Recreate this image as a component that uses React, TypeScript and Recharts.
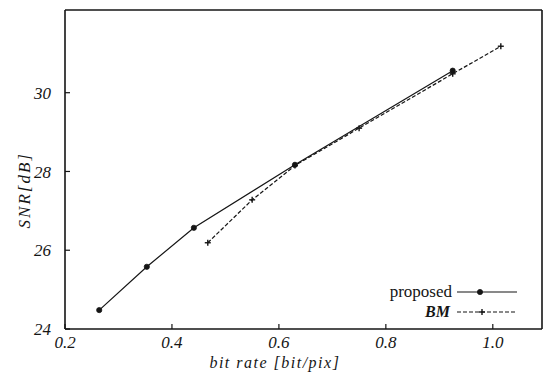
import { LineChart, Line, XAxis, YAxis } from "recharts"

// bit rate [bit/pix] vs SNR [dB]
const proposedRate = [0.264, 0.353, 0.441, 0.63, 0.925]
const proposedSnr = [24.48, 25.58, 26.57, 28.17, 30.56]
const bmRate = [0.467, 0.55, 0.63, 0.75, 0.925, 1.015]
const bmSnr = [26.19, 27.28, 28.15, 29.1, 30.48, 31.18]

const xTicks = [0.2, 0.4, 0.6, 0.8, 1.0]
const xTicksTop = [0.4, 0.6, 0.8, 1.0]
const yTicks = [24, 26, 28, 30]
const yTicksRight = [26, 28, 30]

const proposed = proposedRate.map((rate, i) => ({ rate, snr: proposedSnr[i] }))
const bm = bmRate.map((rate, i) => ({ rate, snr: bmSnr[i] }))

const ink = "#151515"
const serif = "'Liberation Serif', 'DejaVu Serif', serif"
const tickStyle = { fill: ink, fontFamily: serif, fontStyle: "italic", fontSize: 17 }

function CircleDot({ cx, cy }: { cx?: number; cy?: number }) {
  if (cx == null || cy == null) return null
  return <circle cx={cx} cy={cy} r={2.6} fill={ink} stroke={ink} strokeWidth={0.8} />
}

function CrossDot({ cx, cy }: { cx?: number; cy?: number }) {
  if (cx == null || cy == null) return null
  return (
    <g stroke={ink} strokeWidth={1.4}>
      <line x1={cx - 3} y1={cy} x2={cx + 3} y2={cy} />
      <line x1={cx} y1={cy - 3} x2={cx} y2={cy + 3} />
    </g>
  )
}

// legend drawn on top of the plot, lower right corner
function LegendBox() {
  return (
    <svg width={160} height={44} style={{ position: "absolute", left: 372, top: 280 }}>
      <text x={80} y={17} textAnchor="end" fontFamily={serif} fontSize={17} fill={ink}>
        proposed
      </text>
      <line x1={85} y1={12} x2={145} y2={12} stroke={ink} strokeWidth={1.1} />
      <CircleDot cx={108} cy={12} />
      <text x={78} y={37} textAnchor="end" fontFamily={serif} fontStyle="italic" fontWeight="bold" fontSize={16} fill={ink}>
        BM
      </text>
      <line x1={85} y1={32} x2={145} y2={32} stroke={ink} strokeWidth={1.1} strokeDasharray="4 2" />
      <CrossDot cx={110} cy={32} />
    </svg>
  )
}

export default function App() {
  return (
    <div style={{ position: "absolute", left: 0, top: 0, width: 547, height: 373, background: "#fff" }}>
      <LineChart width={547} height={373} margin={{ top: 0, right: 0, bottom: 0, left: 0 }}>
        <XAxis
          dataKey="rate"
          type="number"
          domain={[0.2, 1.092]}
          ticks={xTicks}
          tickFormatter={(v: number) => v.toFixed(1)}
          allowDataOverflow
          height={44}
          tickSize={-5}
          tickMargin={12}
          tick={tickStyle}
          axisLine={{ stroke: ink, strokeWidth: 1.6 }}
          tickLine={{ stroke: ink, strokeWidth: 1.2 }}
          label={(props: any) => {
            const vb = props.viewBox
            return (
              <text
                x={vb.x + vb.width * 0.44}
                y={vb.y + 39}
                textAnchor="middle"
                fontFamily={serif}
                fontStyle="italic"
                fontSize={16}
                letterSpacing={1.5}
                fill={ink}
              >
                bit rate [bit/pix]
              </text>
            )
          }}
        />
        <XAxis
          xAxisId="top"
          orientation="top"
          type="number"
          domain={[0.2, 1.092]}
          ticks={xTicksTop}
          allowDataOverflow
          height={10}
          tickSize={-5}
          tick={false}
          axisLine={{ stroke: ink, strokeWidth: 1.6 }}
          tickLine={{ stroke: ink, strokeWidth: 1.2 }}
        />
        <YAxis
          dataKey="snr"
          type="number"
          domain={[24, 32.1]}
          ticks={yTicks}
          allowDataOverflow
          width={65}
          tickSize={-5}
          tickMargin={19}
          tick={tickStyle}
          axisLine={{ stroke: ink, strokeWidth: 1.6 }}
          tickLine={{ stroke: ink, strokeWidth: 1.2 }}
          label={(props: any) => {
            const vb = props.viewBox
            const cx = 25
            const cy = vb.y + vb.height * 0.565
            return (
              <text
                x={cx}
                y={cy}
                transform={`rotate(-90 ${cx} ${cy})`}
                textAnchor="middle"
                dominantBaseline="central"
                fontFamily={serif}
                fontStyle="italic"
                fontSize={17}
                letterSpacing={2}
                fill={ink}
              >
                SNR[dB]
              </text>
            )
          }}
        />
        <YAxis
          yAxisId="right"
          orientation="right"
          type="number"
          domain={[24, 32.1]}
          ticks={yTicksRight}
          allowDataOverflow
          width={5}
          tickSize={-5}
          tick={false}
          axisLine={{ stroke: ink, strokeWidth: 1.6 }}
          tickLine={{ stroke: ink, strokeWidth: 1.2 }}
        />
        <Line
          data={proposed}
          dataKey="snr"
          name="proposed"
          type="linear"
          stroke={ink}
          strokeWidth={1.2}
          dot={<CircleDot />}
          activeDot={false}
          isAnimationActive={false}
        />
        <Line
          data={bm}
          dataKey="snr"
          name="BM"
          type="linear"
          stroke={ink}
          strokeWidth={1.2}
          strokeDasharray="4 2"
          dot={<CrossDot />}
          activeDot={false}
          isAnimationActive={false}
        />
      </LineChart>
      <LegendBox />
    </div>
  )
}
